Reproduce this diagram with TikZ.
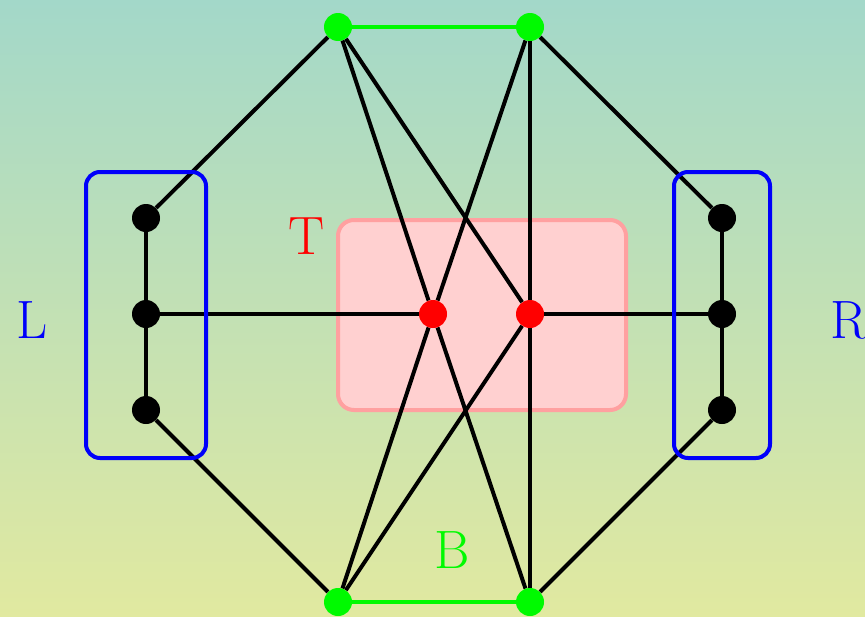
\documentclass[tikz,border=0pt]{standalone}
\usetikzlibrary{backgrounds}
\pgfdeclarelayer{bglayer}
\pgfdeclarelayer{edgelayer}
\pgfsetlayers{bglayer,edgelayer,main}
\definecolor{bgtop}{RGB}{163,216,201}
\definecolor{bgbot}{RGB}{225,233,160}
\definecolor{pinkfill}{RGB}{255,208,208}
\definecolor{pinkdraw}{RGB}{255,160,160}
\definecolor{vgreen}{RGB}{0,250,0}
\definecolor{vred}{RGB}{255,0,0}
\definecolor{vblue}{RGB}{0,0,250}
\tikzset{
  vert/.style={circle,inner sep=0pt,minimum size=28pt},
  gvert/.style={vert,fill=vgreen},
  rvert/.style={vert,fill=vred},
  kvert/.style={vert,fill=black},
  edge/.style={draw=black,line width=4pt},
  gedge/.style={draw=vgreen,line width=4pt},
  group/.style={draw=vblue,line width=4pt,rounded corners=14pt},
  lbl/.style={inner sep=0pt,font=\fontsize{54}{60}\selectfont}
}
\begin{document}
\begin{tikzpicture}[x=1pt,y=-1pt]
\useasboundingbox (0,0) rectangle (865,616);
\begin{pgfonlayer}{bglayer}
  \shade[top color=bgtop,bottom color=bgbot] (0,0) rectangle (865,616);
  \path[fill=pinkfill,draw=pinkdraw,line width=4pt,rounded corners=16pt] (338,220) rectangle (626,410);
\end{pgfonlayer}
% group boxes
\draw[group] (86,172) rectangle (206,458);
\draw[group] (674,172) rectangle (770,458);
% nodes
\node[gvert] (t1) at (338,27) {};
\node[gvert] (t2) at (530,27) {};
\node[gvert] (b1) at (338,602) {};
\node[gvert] (b2) at (530,602) {};
\node[kvert] (l1) at (146,218) {};
\node[kvert] (l2) at (146,314) {};
\node[kvert] (l3) at (146,410) {};
\node[kvert] (r1) at (722,218) {};
\node[kvert] (r2) at (722,314) {};
\node[kvert] (r3) at (722,410) {};
\node[rvert] (c1) at (433,314) {};
\node[rvert] (c2) at (530,314) {};
% labels
\node[lbl,text=vred] (lt) at (307,236) {T};
\node[lbl,text=vblue] (ll) at (32,320) {L};
\node[lbl,text=vblue] (lr) at (849,320) {R};
\node[lbl,text=vgreen] (lb) at (452,550) {B};
\begin{pgfonlayer}{edgelayer}
  \draw[gedge] (t1) -- (t2);
  \draw[gedge] (b1) -- (b2);
  \draw[edge] (l1) -- (l2) -- (l3);
  \draw[edge] (r1) -- (r2) -- (r3);
  \draw[edge] (t1) -- (l1);
  \draw[edge] (t1) -- (c1);
  \draw[edge] (t1) -- (c2);
  \draw[edge] (t2) -- (c1);
  \draw[edge] (t2) -- (c2);
  \draw[edge] (t2) -- (r1);
  \draw[edge] (b1) -- (l3);
  \draw[edge] (b1) -- (c1);
  \draw[edge] (b1) -- (c2);
  \draw[edge] (b2) -- (c1);
  \draw[edge] (b2) -- (c2);
  \draw[edge] (b2) -- (r3);
  \draw[edge] (l2) -- (c1);
  \draw[edge] (c2) -- (r2);
\end{pgfonlayer}
\end{tikzpicture}
\end{document}
